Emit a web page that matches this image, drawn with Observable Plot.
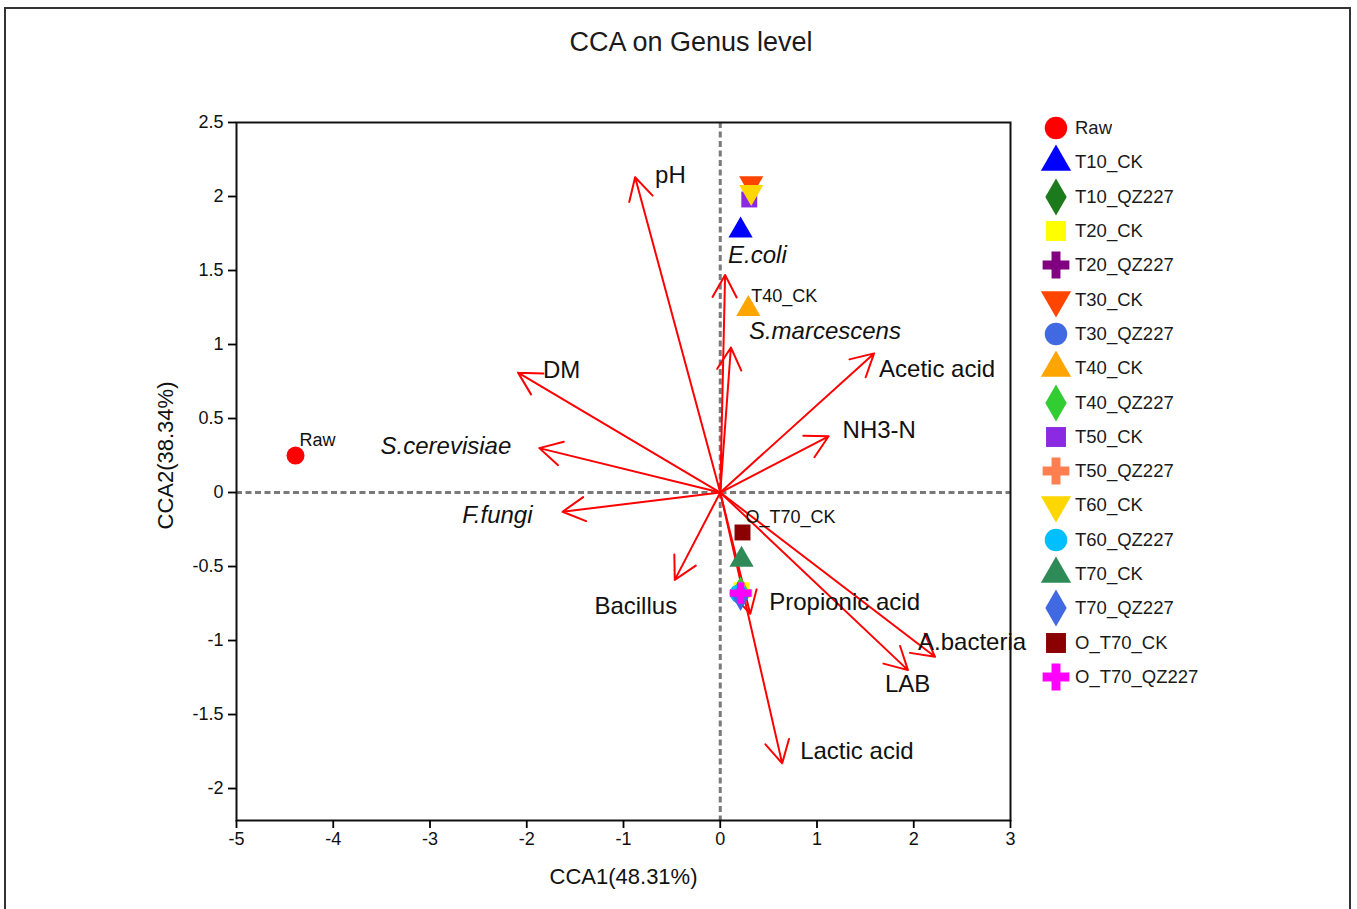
<!DOCTYPE html>
<html><head><meta charset="utf-8">
<script src="https://cdn.jsdelivr.net/npm/d3@7"></script>
<script src="https://cdn.jsdelivr.net/npm/@observablehq/plot@0.6"></script>
<style>
body{margin:0;background:#fff;font-family:"Liberation Sans",Arial,sans-serif;}
#wrap{position:relative;width:1357px;height:909px;overflow:hidden;}
#border{position:absolute;left:4px;top:7px;width:1347px;height:940px;border:2px solid #333;box-sizing:border-box;}
#title{position:absolute;left:441px;width:500px;top:26px;text-align:center;font-size:27px;line-height:32px;color:#1a1a1a;}
#chart{position:absolute;left:0;top:0;}
#legend{position:absolute;left:1044px;top:111px;}
#legend .lg-swatches{font-family:"Liberation Sans",Arial,sans-serif;font-size:18.5px;color:#1a1a1a;margin:0;}
#legend .lg-swatch{height:34.3px;padding:0;}
#legend .lg-swatch > svg{margin-right:7px;}
</style></head>
<body><div id="wrap"><div id="border"></div><div id="title">CCA on Genus level</div><div id="chart"></div><div id="legend"></div></div>
<script>
// ---- data ----
const samples = ["Raw","T10_CK","T10_QZ227","T20_CK","T20_QZ227","T30_CK","T30_QZ227","T40_CK","T40_QZ227","T50_CK","T50_QZ227","T60_CK","T60_QZ227","T70_CK","T70_QZ227","O_T70_CK","O_T70_QZ227"];
const sampleX = [-4.39, 0.21, 0.21, 0.22, 0.21, 0.32, 0.20, 0.29, 0.21, 0.30, 0.22, 0.32, 0.19, 0.22, 0.21, 0.23, 0.21];
const sampleY = [0.25, 1.77, -0.67, -0.66, -0.68, 2.09, -0.69, 1.24, -0.67, 1.98, -0.68, 2.03, -0.68, -0.455, -0.70, -0.27, -0.68];
const sampleColors = ["#ff0000","#0000ff","#1b7a1b","#ffff00","#800080","#ff4500","#4169e1","#ffa500","#32cd32","#8a2be2","#ff7f50","#ffd700","#00bfff","#2e8b57","#4169e1","#8b0000","#ff00ff"];
const sampleShapes = ["circle","triangle","diamond","square","cross","triangleDown","circle","triangle","diamond","square","cross","triangleDown","circle","triangle","diamond","square","cross"];
const labeledSamples = ["Raw","T40_CK","O_T70_CK"];

const variables = ["pH","E.coli","S.marcescens","DM","S.cerevisiae","F.fungi","Bacillus","Acetic acid","NH3-N","Propionic acid","A.bacteria","LAB","Lactic acid"];
const varX = [-0.88, 0.05, 0.11, -2.09, -1.87, -1.63, -0.47, 1.59, 1.12, 0.31, 2.22, 1.94, 0.64];
const varY = [2.13, 1.47, 0.98, 0.81, 0.30, -0.13, -0.59, 0.94, 0.38, -0.82, -1.11, -1.20, -1.83];
const italicVars = ["E.coli","S.marcescens","S.cerevisiae","F.fungi"];

const xTicks = [-5,-4,-3,-2,-1,0,1,2,3];
const yTicks = [-2,-1.5,-1,-0.5,0,0.5,1,1.5,2,2.5];
const xLabel = "CCA1(48.31%)";
const yLabel = "CCA2(38.34%)";

// ---- styling ----
const varLabelPlacement = {
  "pH": [20,-2,"start"], "E.coli": [3,-20,"start"], "S.marcescens": [18,-16,"start"],
  "DM": [25,-2,"start"], "S.cerevisiae": [-28,-2,"end"], "F.fungi": [-30,4,"end"],
  "Bacillus": [-39,26,"middle"], "Acetic acid": [5,16,"start"], "NH3-N": [14,-6,"start"],
  "Propionic acid": [19,-12,"start"], "A.bacteria": [-17,-14,"start"], "LAB": [-23,14,"start"],
  "Lactic acid": [18,-12,"start"]
};
const sampleLabelPlacement = {"Raw": [4,-15], "T40_CK": [3,-13], "O_T70_CK": [3,-15]};

const sqrt3 = Math.sqrt(3);
const triangleDown = {
  draw(context, size) {
    const y = -Math.sqrt(size / (sqrt3 * 3));
    context.moveTo(0, -y * 2);
    context.lineTo(-sqrt3 * y, y);
    context.lineTo(sqrt3 * y, y);
    context.closePath();
  }
};
const shapeMap = {circle: d3.symbolCircle, triangle: d3.symbolTriangle, diamond: d3.symbolDiamond, square: d3.symbolSquare, cross: d3.symbolCross, triangleDown};

const sampleRows = samples.map((name, i) => ({name, x: sampleX[i], y: sampleY[i]}));
const varRows = variables.map((name, i) => ({name, x: varX[i], y: varY[i]}));

const font = '"Liberation Sans", Arial, sans-serif';
const labelMarks = varRows.map(d => {
  const [dx, dy, anchor] = varLabelPlacement[d.name];
  return Plot.text([d], {x: "x", y: "y", text: "name", dx, dy, textAnchor: anchor, fontSize: 24,
    fontStyle: italicVars.includes(d.name) ? "italic" : "normal", fill: "#111"});
});
const sampleLabelMarks = sampleRows.filter(d => labeledSamples.includes(d.name)).map(d => {
  const [dx, dy] = sampleLabelPlacement[d.name];
  return Plot.text([d], {x: "x", y: "y", text: "name", dx, dy, textAnchor: "start", fontSize: 18, fill: "#111"});
});

const plot = Plot.plot({
  width: 1357, height: 909,
  marginLeft: 236, marginRight: 347, marginTop: 122, marginBottom: 89,
  style: {fontFamily: font, background: "transparent", overflow: "visible"},
  x: {domain: [-5, 3]},
  y: {domain: [-2.216, 2.5]},
  color: {type: "ordinal", domain: samples, range: sampleColors},
  symbol: {domain: samples, range: sampleShapes.map(s => shapeMap[s])},
  marks: [
    Plot.ruleX([0], {stroke: "#7a7a7a", strokeWidth: 3, strokeDasharray: "6,3.5"}),
    Plot.ruleY([0], {stroke: "#7a7a7a", strokeWidth: 3, strokeDasharray: "6,3.5"}),
    Plot.frame({stroke: "#111", strokeWidth: 2}),
    Plot.axisX({ticks: xTicks, tickSize: 8, tickPadding: 4, fontSize: 18, tickFormat: d => String(d), label: null, strokeWidth: 1.8, fill: "#111"}),
    Plot.axisY({ticks: yTicks, tickSize: 8, tickPadding: 5, fontSize: 18, tickFormat: d => String(d), label: null, strokeWidth: 1.8, fill: "#111"}),
    Plot.text([xLabel], {frameAnchor: "bottom", text: d => d, dy: 56, lineAnchor: "middle", textAnchor: "middle", fontSize: 22, fill: "#111"}),
    Plot.text([yLabel], {frameAnchor: "left", text: d => d, rotate: -90, dx: -71, dy: -16, textAnchor: "middle", lineAnchor: "middle", fontSize: 22, fill: "#111"}),
    Plot.arrow(varRows, {x1: d => 0, y1: d => 0, x2: "x", y2: "y", stroke: "#ff0000", strokeWidth: 2, headLength: 19, headAngle: 57}),
    ...labelMarks,
    Plot.dot(sampleRows, {x: "x", y: "y", fill: "name", symbol: "name", r: 9}),
    ...sampleLabelMarks
  ]
});
document.getElementById("chart").append(plot);
const legend = plot.legend("symbol", {className: "lg", columns: 1, swatchWidth: 24, swatchHeight: 34, r: 7.5});
document.getElementById("legend").append(legend);
</script>
</body></html>
